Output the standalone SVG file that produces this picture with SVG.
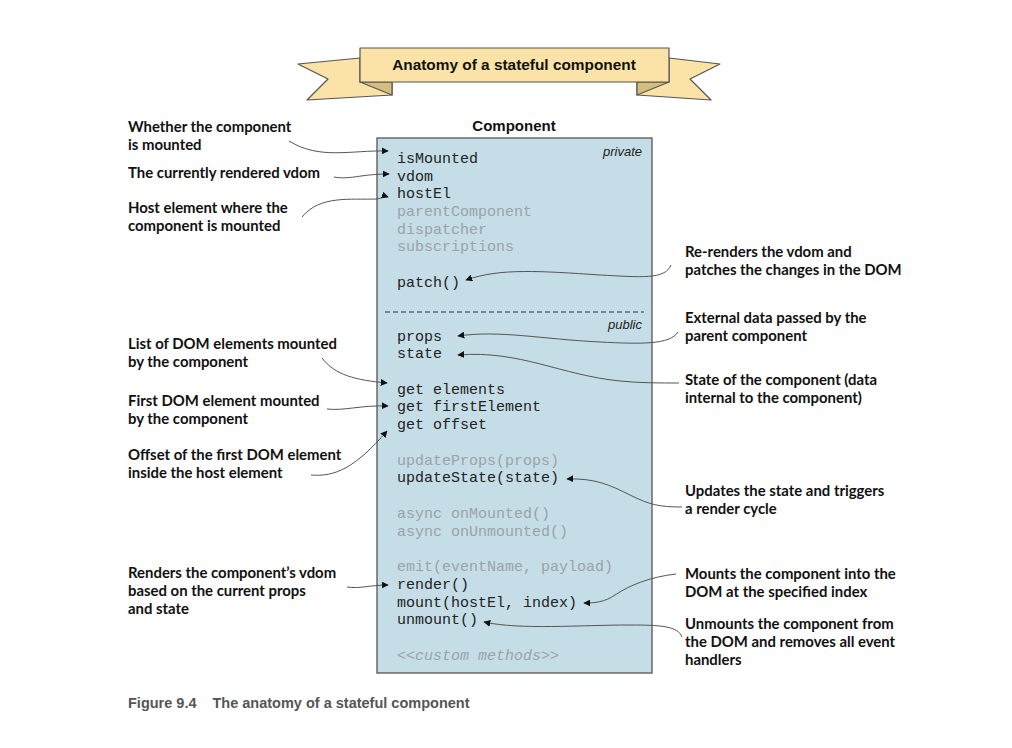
<svg xmlns="http://www.w3.org/2000/svg" width="1012" height="748" viewBox="0 0 1012 748">
<defs>
<marker id="ah" viewBox="0 0 10 10" refX="9" refY="5" markerWidth="7" markerHeight="7" markerUnits="userSpaceOnUse" orient="auto">
<path d="M0,0 L10,5 L0,10 z" fill="#111"/>
</marker>
<style>
.lbl{font-family:Lato,"Open Sans",sans-serif;font-weight:700;font-size:14.9px;fill:#111}
.code{font-family:"Liberation Mono","DejaVu Sans Mono",monospace;font-size:15px;fill:#222}
.dim{fill:#9aa3a8}
.tag{font-family:"Liberation Sans",Arial,sans-serif;font-style:italic;font-size:13px;fill:#222}
.con{fill:none;stroke:#555;stroke-width:1;marker-end:url(#ah)}
.ban{fill:#fbe3a8;stroke:#555;stroke-width:1.2;stroke-linejoin:round}
.fold{fill:#d6bd7f;stroke:#555;stroke-width:1.2;stroke-linejoin:round}
</style>
</defs>
<rect width="1012" height="748" fill="#fff"/>

<g id="banner">
<polygon class="ban" points="360,58 298,64 328,79 307,100 392,95 392,82 360,82"/>
<polygon class="fold" points="360,82 392,82 392,95"/>
<polygon class="ban" points="669,58 720,64 690,79 711,100 637,95 637,82 669,82"/>
<polygon class="fold" points="669,82 637,82 637,95"/>
<rect class="ban" x="360" y="48" width="309" height="34"/>
<text x="514" y="69.5" text-anchor="middle" font-family="Liberation Sans,Arial,sans-serif" font-weight="700" font-size="15.4" fill="#111">Anatomy of a stateful component</text>
</g>

<g id="component">
<text x="514" y="131" text-anchor="middle" font-family="Liberation Sans,Arial,sans-serif" font-weight="700" font-size="15" fill="#111">Component</text>
<rect x="377" y="138" width="275" height="535" fill="#c5dde6" stroke="#555" stroke-width="1.3"/>
<text class="tag" x="642" y="156" text-anchor="end">private</text>
<line x1="385" y1="312" x2="644" y2="312" stroke="#333" stroke-width="1.2" stroke-dasharray="5,3"/>
<text class="tag" x="642" y="329" text-anchor="end">public</text>
<text class="code" x="397" y="163">isMounted</text>
<text class="code" x="397" y="181">vdom</text>
<text class="code" x="397" y="198">hostEl</text>
<text class="code dim" x="397" y="216">parentComponent</text>
<text class="code dim" x="397" y="234">dispatcher</text>
<text class="code dim" x="397" y="251">subscriptions</text>
<text class="code" x="397" y="287">patch()</text>
<text class="code" x="397" y="341">props</text>
<text class="code" x="397" y="358">state</text>
<text class="code" x="397" y="394">get elements</text>
<text class="code" x="397" y="411">get firstElement</text>
<text class="code" x="397" y="429">get offset</text>
<text class="code dim" x="397" y="465">updateProps(props)</text>
<text class="code" x="397" y="482">updateState(state)</text>
<text class="code dim" x="397" y="518">async onMounted()</text>
<text class="code dim" x="397" y="536">async onUnmounted()</text>
<text class="code dim" x="397" y="571">emit(eventName, payload)</text>
<text class="code" x="397" y="589">render()</text>
<text class="code" x="397" y="607">mount(hostEl, index)</text>
<text class="code" x="397" y="624">unmount()</text>
<text class="code dim" x="397" y="660" font-style="italic">&lt;&lt;custom methods&gt;&gt;</text>
</g>

<g id="connectors">
<path class="con" d="M289,141 C320,160 350,150 388,151"/>
<path class="con" d="M334,177 C350,180 360,174 389,174"/>
<path class="con" d="M302,217 C320,195 350,200 377,199 C382,198 385,196 388,197"/>
<path class="con" d="M671,265 C665,280 640,277 600,275 C540,271 500,268 466,280"/>
<path class="con" d="M678,332 C670,345 640,344 600,342 C540,339 500,330 458,336"/>
<path class="con" d="M679,383 C660,383 640,383 620,381 C560,375 520,350 458,355"/>
<path class="con" d="M322,358 C335,375 355,380 387,383"/>
<path class="con" d="M327,409 C345,411 360,405 388,406"/>
<path class="con" d="M311,475 C335,477 355,468 387,431"/>
<path class="con" d="M682,507 C660,507 650,505 630,495 C610,485 595,478 567,479"/>
<path class="con" d="M347,587 C360,589 370,585 388,585"/>
<path class="con" d="M676,574 C650,577 630,585 615,595 C605,602 595,603 584,603"/>
<path class="con" d="M682,637 C678,626 660,625 630,625 C580,625 520,630 484,622"/>
</g>

<g id="label-ismounted"><text class="lbl" x="128" y="132">Whether the component</text><text class="lbl" x="128" y="150">is mounted</text></g>
<g id="label-vdom"><text class="lbl" x="128" y="178">The currently rendered vdom</text></g>
<g id="label-hostel"><text class="lbl" x="128" y="213">Host element where the</text><text class="lbl" x="128" y="231">component is mounted</text></g>
<g id="label-elements"><text class="lbl" x="128" y="349">List of DOM elements mounted</text><text class="lbl" x="128" y="367">by the component</text></g>
<g id="label-first"><text class="lbl" x="128" y="406">First DOM element mounted</text><text class="lbl" x="128" y="424">by the component</text></g>
<g id="label-offset"><text class="lbl" x="128" y="460">Offset of the first DOM element</text><text class="lbl" x="128" y="478">inside the host element</text></g>
<g id="label-render"><text class="lbl" x="128" y="578">Renders the component’s vdom</text><text class="lbl" x="128" y="596">based on the current props</text><text class="lbl" x="128" y="614">and state</text></g>

<g id="label-patch"><text class="lbl" x="685" y="257">Re-renders the vdom and</text><text class="lbl" x="685" y="275">patches the changes in the DOM</text></g>
<g id="label-props"><text class="lbl" x="685" y="323">External data passed by the</text><text class="lbl" x="685" y="341">parent component</text></g>
<g id="label-state"><text class="lbl" x="685" y="385">State of the component (data</text><text class="lbl" x="685" y="403">internal to the component)</text></g>
<g id="label-update"><text class="lbl" x="685" y="496">Updates the state and triggers</text><text class="lbl" x="685" y="514">a render cycle</text></g>
<g id="label-mount"><text class="lbl" x="685" y="579">Mounts the component into the</text><text class="lbl" x="685" y="597">DOM at the specified index</text></g>
<g id="label-unmount"><text class="lbl" x="685" y="629">Unmounts the component from</text><text class="lbl" x="685" y="647">the DOM and removes all event</text><text class="lbl" x="685" y="665">handlers</text></g>

<g id="caption"><text x="128" y="708" font-family="Liberation Sans,Arial,sans-serif" font-weight="700" font-size="14.5" fill="#555">Figure 9.4<tspan dx="16">The anatomy of a stateful component</tspan></text></g>
</svg>
